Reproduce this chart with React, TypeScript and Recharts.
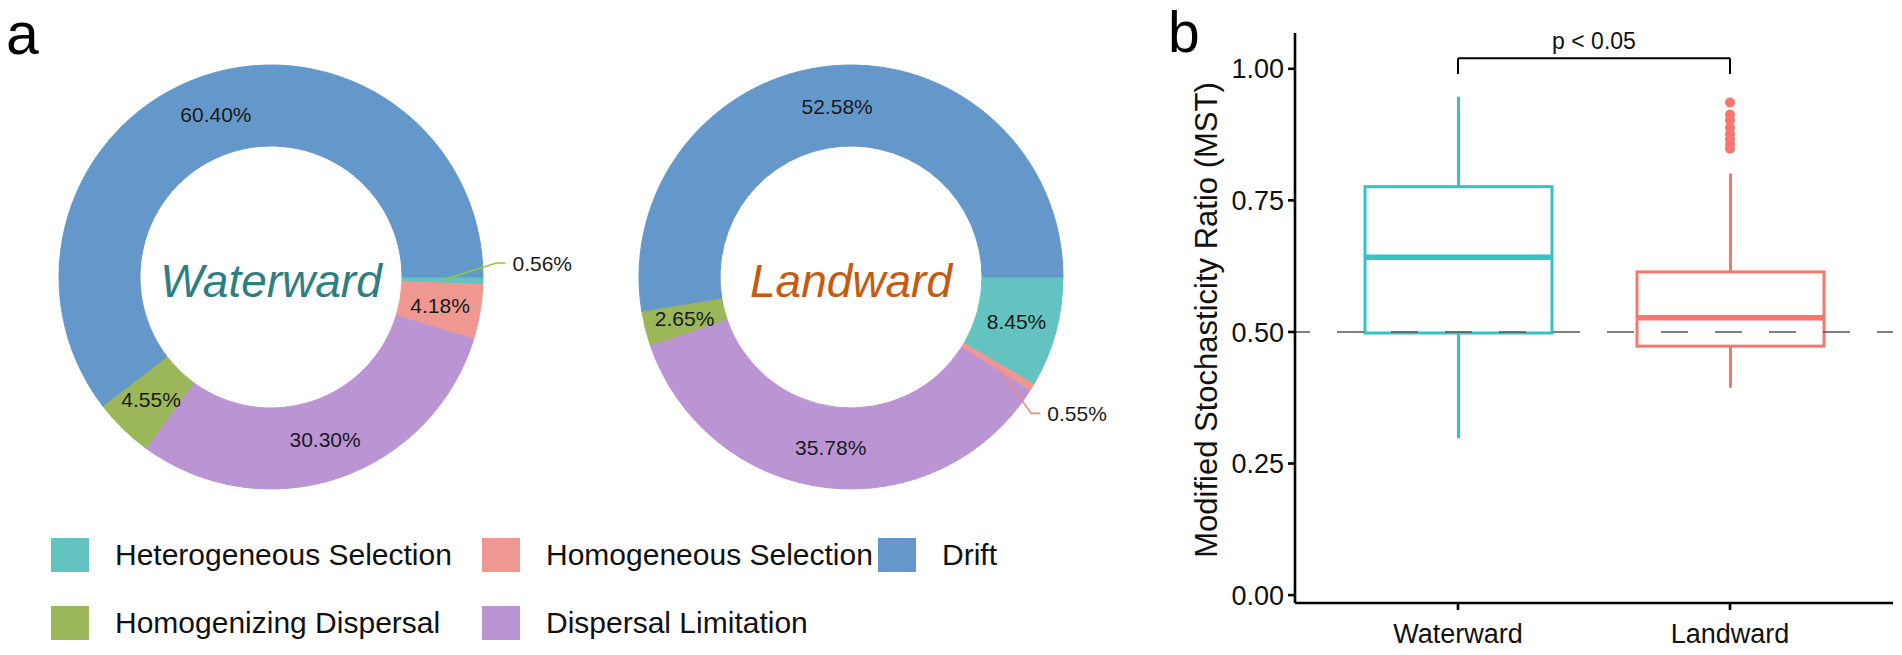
import React from "react";
import {
	Bar,
	Cell,
	ComposedChart,
	Label,
	Legend,
	Pie,
	PieChart,
	ReferenceLine,
	Scatter,
	XAxis,
	YAxis,
} from "recharts";

// panel a: community assembly processes (% of pairwise comparisons)
const processes = [
	"Heterogeneous Selection",
	"Homogeneous Selection",
	"Dispersal Limitation",
	"Homogenizing Dispersal",
	"Drift",
];
const processColors = ["#62C3C0", "#EF9891", "#BB94D4", "#9BB759", "#6598CA"];
const waterwardShare = [0.56, 4.18, 30.3, 4.55, 60.4];
const landwardShare = [8.45, 0.55, 35.78, 2.65, 52.58];
const legendOrder = [
	"Heterogeneous Selection",
	"Homogeneous Selection",
	"Drift",
	"Homogenizing Dispersal",
	"Dispersal Limitation",
];

// panel b: MST box plot
const groups = ["Waterward", "Landward"];
const groupColors = ["#35C2C3", "#F8766D"];
const whiskerLow = [0.298, 0.394];
const lowerQuartile = [0.498, 0.473];
const medians = [0.642, 0.527];
const upperQuartile = [0.776, 0.614];
const whiskerHigh = [0.947, 0.801];
const landwardOutliers = [0.936, 0.913, 0.902, 0.888, 0.876, 0.866, 0.857, 0.848];
const yTicks = [0, 0.25, 0.5, 0.75, 1];
const neutralLevel = 0.5;
const bracketLevel = 1.02;
const bracketTip = 0.99;
const pLabel = "p < 0.05";

const waterwardData = processes.map((name, i) => ({ name, value: waterwardShare[i] }));
const landwardData = processes.map((name, i) => ({ name, value: landwardShare[i] }));

const boxData = groups.map((group, i) => ({
	group,
	range: [whiskerLow[i], whiskerHigh[i]],
	low: whiskerLow[i],
	q1: lowerQuartile[i],
	median: medians[i],
	q3: upperQuartile[i],
	high: whiskerHigh[i],
}));
const outlierData = landwardOutliers.map((value) => ({ group: "Landward", value }));

const RAD = Math.PI / 180;
const FONT = "'Liberation Sans', Arial, sans-serif";
const PIE_Y = 277;
const WATER_X = 271;
const LAND_X = 851;

type Callout = { index: number; dx: number; dy: number; color: string };

function makeSliceLabel(callout: Callout) {
	return (props: any) => {
		const { cx, cy, midAngle, innerRadius, outerRadius, value, index } = props;
		const r = (innerRadius + outerRadius) / 2;
		const x = cx + r * Math.cos(-midAngle * RAD);
		const y = cy + r * Math.sin(-midAngle * RAD);
		const text = `${Number(value).toFixed(2)}%`;
		if (index === callout.index) {
			const ex = x + callout.dx;
			const ey = y + callout.dy;
			return (
				<g>
					<polyline
						points={`${x},${y} ${ex},${ey} ${ex + 9},${ey}`}
						fill="none"
						stroke={callout.color}
						strokeWidth={1.6}
					/>
					<text
						x={ex + 16}
						y={ey}
						fill="#1a1a1a"
						fontSize={21}
						fontFamily={FONT}
						textAnchor="start"
						dominantBaseline="central"
					>
						{text}
					</text>
				</g>
			);
		}
		return (
			<text
				x={x}
				y={y}
				fill="#1a1a1a"
				fontSize={21}
				fontFamily={FONT}
				textAnchor="middle"
				dominantBaseline="central"
			>
				{text}
			</text>
		);
	};
}

const legendLeft = [51, 482, 878];
const legendTop = [555, 623];

function ProcessLegend() {
	return (
		<div style={{ position: "relative", width: 1150, height: 655 }}>
			{legendOrder.map((name, i) => {
				const color = processColors[processes.indexOf(name)];
				return (
					<div
						key={name}
						style={{
							position: "absolute",
							left: legendLeft[i % 3],
							top: legendTop[Math.floor(i / 3)] - 18,
							height: 36,
							display: "flex",
							alignItems: "center",
							whiteSpace: "nowrap",
						}}
					>
						<span style={{ width: 38, height: 34, background: color, marginRight: 26 }} />
						<span style={{ fontSize: 30, color: "#111", fontFamily: FONT }}>{name}</span>
					</div>
				);
			})}
		</div>
	);
}

function BoxShape(props: any) {
	const { x, y, width, height, payload, index } = props;
	const top = Math.min(y, y + height);
	const bottom = Math.max(y, y + height);
	const { low, high, q1, median, q3 } = payload;
	const toPx = (v: number) => bottom - ((v - low) / (high - low)) * (bottom - top);
	const color = groupColors[index];
	const mid = x + width / 2;
	return (
		<g>
			<line x1={mid} x2={mid} y1={toPx(high)} y2={toPx(q3)} stroke={color} strokeWidth={3} />
			<line x1={mid} x2={mid} y1={toPx(q1)} y2={toPx(low)} stroke={color} strokeWidth={3} />
			<rect
				x={x}
				y={toPx(q3)}
				width={width}
				height={toPx(q1) - toPx(q3)}
				fill="none"
				stroke={color}
				strokeWidth={3}
			/>
			<line x1={x} x2={x + width} y1={toPx(median)} y2={toPx(median)} stroke={color} strokeWidth={5.5} />
		</g>
	);
}

function AxisTitle({ viewBox }: any) {
	const x = viewBox.x + 106;
	const y = viewBox.y + viewBox.height / 2 + 2;
	return (
		<text
			x={x}
			y={y}
			transform={`rotate(-90 ${x} ${y})`}
			textAnchor="middle"
			dominantBaseline="central"
			fontSize={31}
			fill="#111"
			fontFamily={FONT}
		>
			Modified Stochasticity Ratio (MST)
		</text>
	);
}

export default function App() {
	return (
		<div
			style={{
				position: "relative",
				width: 1902,
				height: 655,
				overflow: "hidden",
				background: "#fff",
				fontFamily: FONT,
			}}
		>
			<style>{"body{margin:0}"}</style>

			<PieChart
				width={1150}
				height={655}
				margin={{ top: 0, right: 0, bottom: 0, left: 0 }}
				style={{ position: "absolute", left: 0, top: 0 }}
			>
				<Pie
					data={waterwardData}
					dataKey="value"
					nameKey="name"
					cx={WATER_X}
					cy={PIE_Y}
					innerRadius={131}
					outerRadius={212}
					startAngle={0}
					endAngle={-360}
					label={makeSliceLabel({ index: 0, dx: 54, dy: -17, color: "#8CCB3A" })}
					labelLine={false}
					isAnimationActive={false}
				>
					{waterwardData.map((d, i) => (
						<Cell key={d.name} fill={processColors[i]} stroke={processColors[i]} />
					))}
				</Pie>
				<Pie
					data={landwardData}
					dataKey="value"
					nameKey="name"
					cx={LAND_X}
					cy={PIE_Y}
					innerRadius={131}
					outerRadius={212}
					startAngle={0}
					endAngle={-360}
					label={makeSliceLabel({ index: 1, dx: 34, dy: 47, color: "#F08A80" })}
					labelLine={false}
					isAnimationActive={false}
				>
					{landwardData.map((d, i) => (
						<Cell key={d.name} fill={processColors[i]} stroke={processColors[i]} />
					))}
				</Pie>
				<Legend
					layout="horizontal"
					verticalAlign="middle"
					align="center"
					content={() => <ProcessLegend />}
					wrapperStyle={{ position: "absolute", left: 0, top: 0, width: 1150, height: 655, pointerEvents: "none" }}
				/>
			</PieChart>

			<ComposedChart
				width={802}
				height={655}
				data={boxData}
				margin={{ top: 33, right: 9, bottom: 0, left: 0 }}
				style={{ position: "absolute", left: 1100, top: 0 }}
			>
				<XAxis
					dataKey="group"
					type="category"
					allowDuplicatedCategory={false}
					height={52}
					padding={{ left: 27, right: 27 }}
					axisLine={{ stroke: "#000", strokeWidth: 2.6 }}
					tickLine={{ stroke: "#000", strokeWidth: 2.6 }}
					tickSize={7}
					tickMargin={14}
					tick={{ fontSize: 27, fill: "#111", fontFamily: FONT }}
				/>
				<YAxis
					type="number"
					domain={[-0.015, 1.068]}
					allowDataOverflow
					ticks={yTicks}
					tickFormatter={(v: number) => v.toFixed(2)}
					width={195}
					axisLine={{ stroke: "#000", strokeWidth: 2.6 }}
					tickLine={{ stroke: "#000", strokeWidth: 2.6 }}
					tickSize={7}
					tickMargin={4}
					tick={{ fontSize: 27, fill: "#111", fontFamily: FONT }}
				>
					<Label content={AxisTitle} />
				</YAxis>
				<Bar dataKey="range" barSize={187} shape={BoxShape} isAnimationActive={false} />
				<Scatter
					data={outlierData}
					dataKey="value"
					isAnimationActive={false}
					shape={(p: any) => <circle cx={p.cx} cy={p.cy} r={5} fill={groupColors[1]} />}
				/>
				<ReferenceLine
					y={neutralLevel}
					stroke="#555"
					strokeWidth={1.5}
					strokeDasharray="27 27"
					strokeDashoffset={12}
				/>
				<ReferenceLine
					segment={[
						{ x: groups[0], y: bracketLevel },
						{ x: groups[1], y: bracketLevel },
					]}
					stroke="#000"
					strokeWidth={2}
				>
					<Label value={pLabel} position="top" offset={9} fontSize={23} fill="#111" fontFamily={FONT} />
				</ReferenceLine>
				<ReferenceLine
					segment={[
						{ x: groups[0], y: bracketLevel },
						{ x: groups[0], y: bracketTip },
					]}
					stroke="#000"
					strokeWidth={2}
				/>
				<ReferenceLine
					segment={[
						{ x: groups[1], y: bracketLevel },
						{ x: groups[1], y: bracketTip },
					]}
					stroke="#000"
					strokeWidth={2}
				/>
			</ComposedChart>

			<svg
				width={1902}
				height={655}
				style={{ position: "absolute", left: 0, top: 0, pointerEvents: "none" }}
			>
				<text x={6} y={54} fontSize={59} fontFamily={FONT} fill="#000">
					a
				</text>
				<text x={1168} y={52} fontSize={57} fontFamily={FONT} fill="#000">
					b
				</text>
				<text
					x={WATER_X}
					y={PIE_Y + 4}
					textAnchor="middle"
					dominantBaseline="central"
					fontSize={46}
					fontStyle="italic"
					fontFamily={FONT}
					fill="#2F7E82"
				>
					Waterward
				</text>
				<text
					x={LAND_X}
					y={PIE_Y + 4}
					textAnchor="middle"
					dominantBaseline="central"
					fontSize={46}
					fontStyle="italic"
					fontFamily={FONT}
					fill="#C55A11"
				>
					Landward
				</text>
			</svg>
		</div>
	);
}
